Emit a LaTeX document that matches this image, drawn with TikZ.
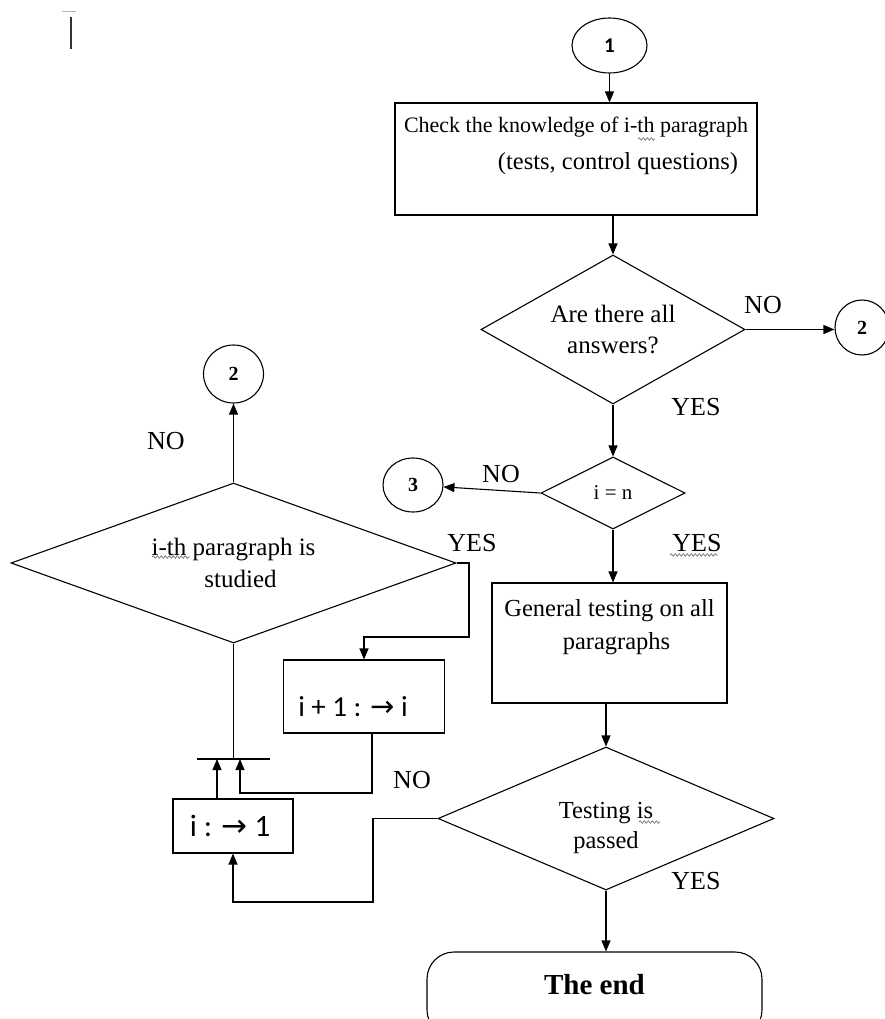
\documentclass[tikz,border=0pt]{standalone}
\usepackage{fontspec}
\setmainfont{Liberation Serif}
\newfontfamily\boxfont{Carlito}
\newfontfamily\arrowfont{DejaVu Sans}
\usepackage{tikz}
\usetikzlibrary{shapes.geometric}
\usetikzlibrary{arrows.meta}
\usetikzlibrary{decorations.pathmorphing}
\usepackage{xcolor}

\newcommand\goesto{{\arrowfont →}}

\tikzset{
    box/.style={draw, rectangle, line width=1.1pt, inner sep=0pt},
    decision/.style={draw, diamond, line width=1.1pt, inner sep=0pt, align=center},
    joint/.style={draw, ellipse, line width=1.1pt, inner sep=0pt},
    answer/.style={font=\fontsize{26}{30}\selectfont},
    flow/.style={line width=1.1pt, -{Triangle[length=11pt,width=9pt]}},
    spellmark/.style={gray, line width=0.8pt, decorate, decoration={snake, segment length=4pt, amplitude=1.2pt}},
}

\begin{document}
\begin{tikzpicture}[x=1pt, y=-1pt]
    \useasboundingbox (0,0) rectangle (885,1019);
    % stray marks in the corner
    \draw[gray!60, line width=1pt] (62,12) -- (76,12);
    \draw[black!80, line width=1.2pt] (71,17) -- (71,49);

    % right column
    \node[joint, minimum width=75, minimum height=55, font=\boxfont\bfseries\fontsize{21}{21}\selectfont] (start) at (609.5,45.5) {1};
    \node[box, minimum width=362, minimum height=112, align=center, font=\fontsize{22}{37}\selectfont] (check) at (576,159)
        {Check the knowledge of i-th paragraph\\ \hspace*{84pt}{\fontsize{24.5}{37}\selectfont(tests, control questions)}\\[-6pt] \mbox{}};
    \node[decision, minimum width=264, minimum height=149, aspect=1.77, font=\fontsize{25}{31}\selectfont] (allans) at (613,329.5)
        {Are there all\\answers?};
    \node[joint, minimum width=54, minimum height=55, font=\bfseries\fontsize{20}{20}\selectfont] (ansjump) at (862,327.5) {2};
    \node[decision, minimum width=144, minimum height=72, aspect=2, font=\fontsize{21}{21}\selectfont] (lastpar) at (613,493) {i = n};
    \node[joint, minimum width=60, minimum height=54, font=\bfseries\fontsize{20}{20}\selectfont] (nextjump) at (413,485) {3};
    \node[box, minimum width=235, minimum height=120, align=center, font=\fontsize{24.5}{33}\selectfont] (general) at (609.5,643)
        {General testing on all\\ \hspace*{14pt}paragraphs\\[4pt] \mbox{}};
    \node[decision, minimum width=336, minimum height=143, aspect=2.35, font=\fontsize{24.5}{30}\selectfont] (passed) at (606,818.5)
        {\mbox{}\\[5pt] Testing is\\passed};
    \node[draw, rectangle, rounded corners=27pt, line width=1.1pt, minimum width=335, minimum height=85, text height=20pt, text depth=20pt,
        font=\bfseries\fontsize{29}{29}\selectfont] (theend) at (594.5,994.5) {The end};

    % left column
    \node[joint, minimum width=60, minimum height=58, font=\bfseries\fontsize{20}{20}\selectfont] (studjump) at (233.5,374) {2};
    \node[decision, minimum width=445, minimum height=160, aspect=2.78, font=\fontsize{25}{32}\selectfont] (studied) at (233.5,563)
        {i-th paragraph is\\ \hspace*{14pt}studied};
    \node[box, minimum width=161, minimum height=73, text height=40pt, text depth=0pt, font=\boxfont\fontsize{29}{29}\selectfont] (inext) at (364,696.5)
        {i + 1 : \goesto{} i\hspace*{22pt}};
    \node[box, minimum width=120, minimum height=54, font=\boxfont\fontsize{31}{31}\selectfont] (reset) at (233,826)
        {i : \goesto{} 1\hspace*{6pt}};
    \coordinate (barleft) at (197,759);
    \coordinate (barright) at (270,759);
    \coordinate (barin) at (240,759);
    \coordinate (yesdrop) at (469,637);
    \coordinate (nobend) at (240,793);
    \coordinate (backturn) at (373,902);

    % answers
    \node[answer] (ansno) at (763,305) {NO};
    \node[answer] (ansyes) at (696,407) {YES};
    \node[answer] (lastno) at (501,474) {NO};
    \node[answer] (lastyes) at (697,543) {YES};
    \node[answer] (studno) at (166,441) {NO};
    \node[answer] (studyes) at (472,543) {YES};
    \node[answer] (nextno) at (412,780) {NO};
    \node[answer] (passyes) at (696,881) {YES};

    % spelling marks
    \draw[spellmark] (638,139) -- (655,139);
    \draw[spellmark] (152,557) -- (190,557);
    \draw[spellmark] (670,555) -- (718,555);
    \draw[spellmark] (639,822) -- (660,822);

    % connectors
    \draw[flow] (start) -- (start |- check.north);
    \draw[flow] (check.south -| allans.north) -- (allans.north);
    \draw[flow] (allans.east) -- (allans.east -| ansjump.west);
    \draw[flow] (allans.south) -- (lastpar.north);
    \draw[flow] (lastpar.west) -- (nextjump);
    \draw[flow] (lastpar.south) -- (lastpar.south |- general.north);
    \draw[flow] (general.south -| passed.north) -- (passed.north);
    \draw[flow] (passed.south) -- (passed.south |- theend.north);
    \draw[flow] (passed.west) -| (backturn) -| (reset.south);
    \draw[flow] (studied.north) -- (studjump);
    \draw[flow] (studied.east) -| (yesdrop) -| (inext.north);
    \draw[flow] ([xshift=8pt]inext.south) |- (nobend) -- (barin);
    \draw[flow] ([xshift=-16pt]reset.north) -- ([xshift=-16pt]reset.north |- barin);
    \draw[line width=1.1pt] (studied.south) -- (studied.south |- barin);
    \draw[line width=1.1pt] (barleft) -- (barright);
\end{tikzpicture}
\end{document}
